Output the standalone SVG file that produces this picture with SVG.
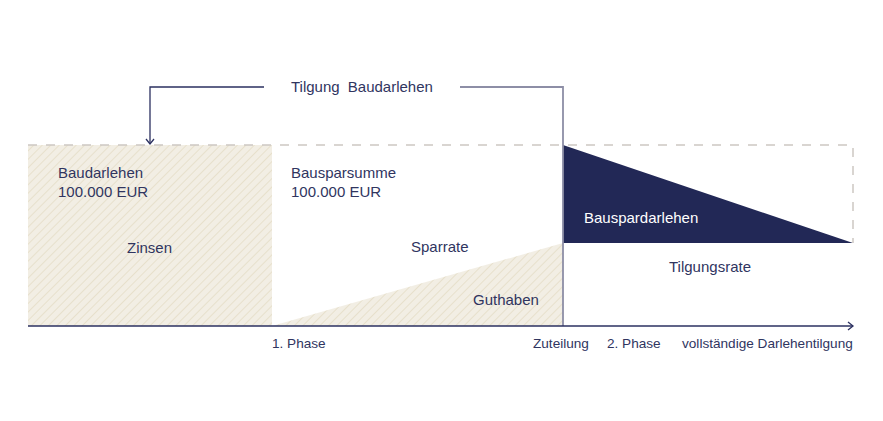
<svg xmlns="http://www.w3.org/2000/svg" width="883" height="421" viewBox="0 0 883 421">
<style>
text{font-family:"Liberation Sans",Arial,sans-serif;font-size:15px;fill:#30355f}
.ax{font-size:13.6px}
.conn{fill:none;stroke:#2b3060;stroke-width:1.3}
.grey{fill:none;stroke:#8d8ea6;stroke-width:1.8}
.dash{fill:none;stroke:#cdc8c2;stroke-width:1.5;stroke-dasharray:9 9}
</style>
<defs>
<pattern id="hatch" patternUnits="userSpaceOnUse" width="6" height="6" patternTransform="rotate(45)">
<rect width="6" height="6" fill="#f2eee4"/>
<line x1="0" y1="0" x2="0" y2="6" stroke="#e2d9bf" stroke-width="1.3"/>
</pattern>
<marker id="arr" markerWidth="10" markerHeight="10" refX="8" refY="5" orient="auto" markerUnits="userSpaceOnUse">
<path d="M3,1 L8,5 L3,9" fill="none" stroke="#2b3060" stroke-width="1.3"/>
</marker>
</defs>
<rect width="883" height="421" fill="#ffffff"/>
<g id="baudarlehen">
<rect x="28" y="145" width="244" height="181" fill="url(#hatch)"/>
<text x="58" y="178">Baudarlehen</text>
<text x="58" y="197">100.000 EUR</text>
<text x="127" y="253">Zinsen</text>
</g>
<g id="bausparsumme">
<text x="291" y="178">Bausparsumme</text>
<text x="291" y="197">100.000 EUR</text>
<text x="411" y="252">Sparrate</text>
</g>
<g id="guthaben">
<polygon points="272,326 563,243 563,326" fill="url(#hatch)"/>
<text x="473" y="305">Guthaben</text>
</g>
<g id="bauspardarlehen">
<polygon points="563,145 563,243 853,243" fill="#222856"/>
<text x="584" y="223" style="fill:#ffffff">Bauspardarlehen</text>
<text x="669" y="272">Tilgungsrate</text>
</g>
<g id="frame">
<path class="dash" d="M28,145 H853 V243"/>
</g>
<g id="connectors">
<path class="grey" d="M460,87 H563 V326"/>
<path class="conn" d="M264,87 H150 V144" marker-end="url(#arr)"/>
<path class="conn" d="M28,326 H853" marker-end="url(#arr)"/>
</g>
<g id="labels">
<text x="291" y="92" style="word-spacing:4px">Tilgung Baudarlehen</text>
<text class="ax" x="272" y="348">1. Phase</text>
<text class="ax" x="533" y="348">Zuteilung</text>
<text class="ax" x="607" y="348">2. Phase</text>
<text class="ax" x="682" y="348">vollständige Darlehentilgung</text>
</g>
</svg>
